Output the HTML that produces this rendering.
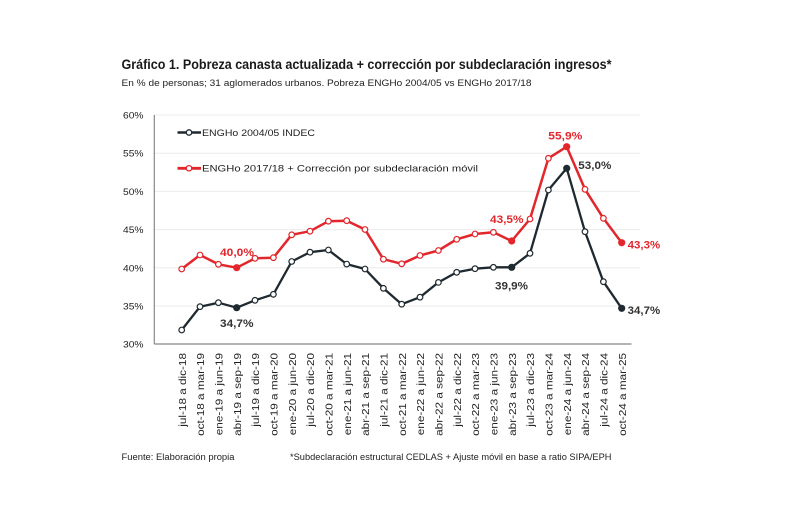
<!DOCTYPE html>
<html><head><meta charset="utf-8"><style>
html,body{margin:0;padding:0;background:#fff;}
svg{display:block;font-family:"Liberation Sans",sans-serif;}
</style></head><body>
<svg width="800" height="522" viewBox="0 0 800 522" xmlns="http://www.w3.org/2000/svg">
<rect width="800" height="522" fill="#fff"/>
<text x="121.5" y="69" font-size="13.5" font-weight="bold" fill="#1a1a1a" textLength="490" lengthAdjust="spacingAndGlyphs">Gráfico 1. Pobreza canasta actualizada + corrección por subdeclaración ingresos*</text>
<text x="121.5" y="86" font-size="9.3" fill="#222" textLength="410" lengthAdjust="spacingAndGlyphs">En % de personas; 31 aglomerados urbanos. Pobreza ENGHo 2004/05 vs ENGHo 2017/18</text>
<g stroke="#ececec" stroke-width="1">
<line x1="154" y1="115" x2="640" y2="115"/>
<line x1="154" y1="153.2" x2="640" y2="153.2"/>
<line x1="154" y1="191.4" x2="640" y2="191.4"/>
<line x1="154" y1="229.6" x2="640" y2="229.6"/>
<line x1="154" y1="267.8" x2="640" y2="267.8"/>
<line x1="154" y1="306" x2="640" y2="306"/>
</g>
<g stroke="#888" stroke-width="1.2" fill="none">
<line x1="154.3" y1="115" x2="154.3" y2="344"/>
<line x1="154.3" y1="344" x2="631.5" y2="344"/>
</g>
<g font-size="9.5" fill="#222" text-anchor="end">
<text x="143.5" y="118.5" textLength="20.5" lengthAdjust="spacingAndGlyphs">60%</text>
<text x="143.5" y="156.7" textLength="20.5" lengthAdjust="spacingAndGlyphs">55%</text>
<text x="143.5" y="194.9" textLength="20.5" lengthAdjust="spacingAndGlyphs">50%</text>
<text x="143.5" y="233.1" textLength="20.5" lengthAdjust="spacingAndGlyphs">45%</text>
<text x="143.5" y="271.3" textLength="20.5" lengthAdjust="spacingAndGlyphs">40%</text>
<text x="143.5" y="309.5" textLength="20.5" lengthAdjust="spacingAndGlyphs">35%</text>
<text x="143.5" y="347.5" textLength="20.5" lengthAdjust="spacingAndGlyphs">30%</text>
</g>
<!-- legend -->
<line x1="177.5" y1="132.5" x2="201" y2="132.5" stroke="#1f2a30" stroke-width="2.5"/>
<circle cx="189" cy="132.5" r="2.7" fill="#fff" stroke="#1f2a30" stroke-width="1.3"/>
<text x="202" y="135.8" font-size="9.3" fill="#222" textLength="113" lengthAdjust="spacingAndGlyphs">ENGHo 2004/05 INDEC</text>
<line x1="177.5" y1="168.3" x2="201" y2="168.3" stroke="#e2262c" stroke-width="2.8"/>
<circle cx="189" cy="168.3" r="2.7" fill="#fff" stroke="#e2262c" stroke-width="1.3"/>
<text x="202" y="171.6" font-size="9.3" fill="#222" textLength="276" lengthAdjust="spacingAndGlyphs">ENGHo 2017/18 + Corrección por subdeclaración móvil</text>
<!-- series -->
<polyline fill="none" stroke="#1f2a30" stroke-width="2.3" stroke-linejoin="round" points="181.7,330 200,306.7 218.4,302.7 236.7,307.7 255,300.3 273.4,294.3 291.7,261.5 310,252.2 328.4,250 346.7,264.1 365,269 383.4,288.3 401.7,304.2 420,297.2 438.4,282.4 456.7,272.3 475,268.7 493.4,267.3 511.7,267.3 530,253.3 548.4,190 566.7,168.3 585,231.7 603.4,281.7 621.7,308.3"/>
<polyline fill="none" stroke="#e2262c" stroke-width="2.5" stroke-linejoin="round" points="181.7,269 200,255 218.4,264.3 236.7,267.7 255,258.3 273.4,257.7 291.7,234.8 310,231.2 328.4,221.2 346.7,220.7 365,229.5 383.4,259.2 401.7,263.8 420,255.5 438.4,250.5 456.7,239.3 475,234 493.4,232.3 511.7,241 530,219 548.4,158.3 566.7,146.7 585,189.3 603.4,218.3 621.7,242.7"/>
<g fill="#fff" stroke="#1f2a30" stroke-width="1.2">
<circle cx="181.7" cy="330" r="2.8"/><circle cx="200" cy="306.7" r="2.8"/><circle cx="218.4" cy="302.7" r="2.8"/>
<circle cx="255" cy="300.3" r="2.8"/><circle cx="273.4" cy="294.3" r="2.8"/><circle cx="291.7" cy="261.5" r="2.8"/>
<circle cx="310" cy="252.2" r="2.8"/><circle cx="328.4" cy="250" r="2.8"/><circle cx="346.7" cy="264.1" r="2.8"/>
<circle cx="365" cy="269" r="2.8"/><circle cx="383.4" cy="288.3" r="2.8"/><circle cx="401.7" cy="304.2" r="2.8"/>
<circle cx="420" cy="297.2" r="2.8"/><circle cx="438.4" cy="282.4" r="2.8"/><circle cx="456.7" cy="272.3" r="2.8"/>
<circle cx="475" cy="268.7" r="2.8"/><circle cx="493.4" cy="267.3" r="2.8"/>
<circle cx="530" cy="253.3" r="2.8"/><circle cx="548.4" cy="190" r="2.8"/>
<circle cx="585" cy="231.7" r="2.8"/><circle cx="603.4" cy="281.7" r="2.8"/>
</g>
<g fill="#1f2a30">
<circle cx="236.7" cy="307.7" r="3.6"/><circle cx="511.7" cy="267.3" r="3.6"/><circle cx="566.7" cy="168.3" r="3.6"/><circle cx="621.7" cy="308.3" r="3.6"/>
</g>
<g fill="#fff" stroke="#e2262c" stroke-width="1.2">
<circle cx="181.7" cy="269" r="2.8"/><circle cx="200" cy="255" r="2.8"/><circle cx="218.4" cy="264.3" r="2.8"/>
<circle cx="255" cy="258.3" r="2.8"/><circle cx="273.4" cy="257.7" r="2.8"/><circle cx="291.7" cy="234.8" r="2.8"/>
<circle cx="310" cy="231.2" r="2.8"/><circle cx="328.4" cy="221.2" r="2.8"/><circle cx="346.7" cy="220.7" r="2.8"/>
<circle cx="365" cy="229.5" r="2.8"/><circle cx="383.4" cy="259.2" r="2.8"/><circle cx="401.7" cy="263.8" r="2.8"/>
<circle cx="420" cy="255.5" r="2.8"/><circle cx="438.4" cy="250.5" r="2.8"/><circle cx="456.7" cy="239.3" r="2.8"/>
<circle cx="475" cy="234" r="2.8"/><circle cx="493.4" cy="232.3" r="2.8"/>
<circle cx="530" cy="219" r="2.8"/><circle cx="548.4" cy="158.3" r="2.8"/>
<circle cx="585" cy="189.3" r="2.8"/><circle cx="603.4" cy="218.3" r="2.8"/>
</g>
<g fill="#e2262c">
<circle cx="236.7" cy="267.7" r="3.6"/><circle cx="511.7" cy="241" r="3.6"/><circle cx="566.7" cy="146.7" r="3.6"/><circle cx="621.7" cy="242.7" r="3.6"/>
</g>
<!-- data labels -->
<g font-size="11" font-weight="bold">
<text x="220" y="256" fill="#e2262c" textLength="34" lengthAdjust="spacingAndGlyphs">40,0%</text>
<text x="220" y="327" fill="#333" textLength="33.5" lengthAdjust="spacingAndGlyphs">34,7%</text>
<text x="490" y="223" fill="#e2262c" textLength="33.5" lengthAdjust="spacingAndGlyphs">43,5%</text>
<text x="548.3" y="139.5" fill="#e2262c" textLength="34" lengthAdjust="spacingAndGlyphs">55,9%</text>
<text x="578.3" y="169" fill="#333" textLength="33" lengthAdjust="spacingAndGlyphs">53,0%</text>
<text x="495" y="289.5" fill="#333" textLength="33" lengthAdjust="spacingAndGlyphs">39,9%</text>
<text x="627.7" y="248.5" fill="#e2262c" textLength="32.5" lengthAdjust="spacingAndGlyphs">43,3%</text>
<text x="627.7" y="314" fill="#333" textLength="32.5" lengthAdjust="spacingAndGlyphs">34,7%</text>
</g>
<!-- x labels -->
<g font-size="10.5" fill="#222" text-anchor="end">
<text transform="translate(185.8,353) rotate(-90) scale(1.12,1)">jul-18 a dic-18</text>
<text transform="translate(204.1,353) rotate(-90) scale(1.12,1)">oct-18 a mar-19</text>
<text transform="translate(222.5,353) rotate(-90) scale(1.12,1)">ene-19 a jun-19</text>
<text transform="translate(240.8,353) rotate(-90) scale(1.12,1)">abr-19 a sep-19</text>
<text transform="translate(259.1,353) rotate(-90) scale(1.12,1)">jul-19 a dic-19</text>
<text transform="translate(277.5,353) rotate(-90) scale(1.12,1)">oct-19 a mar-20</text>
<text transform="translate(295.8,353) rotate(-90) scale(1.12,1)">ene-20 a jun-20</text>
<text transform="translate(314.1,353) rotate(-90) scale(1.12,1)">jul-20 a dic-20</text>
<text transform="translate(332.5,353) rotate(-90) scale(1.12,1)">oct-20 a mar-21</text>
<text transform="translate(350.8,353) rotate(-90) scale(1.12,1)">ene-21 a jun-21</text>
<text transform="translate(369.1,353) rotate(-90) scale(1.12,1)">abr-21 a sep-21</text>
<text transform="translate(387.5,353) rotate(-90) scale(1.12,1)">jul-21 a dic-21</text>
<text transform="translate(405.8,353) rotate(-90) scale(1.12,1)">oct-21 a mar-22</text>
<text transform="translate(424.1,353) rotate(-90) scale(1.12,1)">ene-22 a jun-22</text>
<text transform="translate(442.5,353) rotate(-90) scale(1.12,1)">abr-22 a sep-22</text>
<text transform="translate(460.8,353) rotate(-90) scale(1.12,1)">jul-22 a dic-22</text>
<text transform="translate(479.1,353) rotate(-90) scale(1.12,1)">oct-22 a mar-23</text>
<text transform="translate(497.5,353) rotate(-90) scale(1.12,1)">ene-23 a jun-23</text>
<text transform="translate(515.8,353) rotate(-90) scale(1.12,1)">abr-23 a sep-23</text>
<text transform="translate(534.1,353) rotate(-90) scale(1.12,1)">jul-23 a dic-23</text>
<text transform="translate(552.5,353) rotate(-90) scale(1.12,1)">oct-23 a mar-24</text>
<text transform="translate(570.8,353) rotate(-90) scale(1.12,1)">ene-24 a jun-24</text>
<text transform="translate(589.1,353) rotate(-90) scale(1.12,1)">abr-24 a sep-24</text>
<text transform="translate(607.5,353) rotate(-90) scale(1.12,1)">jul-24 a dic-24</text>
<text transform="translate(625.8,353) rotate(-90) scale(1.12,1)">oct-24 a mar-25</text>
</g>
<!-- footer -->
<text x="121.5" y="460" font-size="8.8" fill="#222" textLength="113" lengthAdjust="spacingAndGlyphs">Fuente: Elaboración propia</text>
<text x="290" y="460" font-size="8.8" fill="#222" textLength="321.5" lengthAdjust="spacingAndGlyphs">*Subdeclaración estructural CEDLAS + Ajuste móvil en base a ratio SIPA/EPH</text>
</svg>
</body></html>
